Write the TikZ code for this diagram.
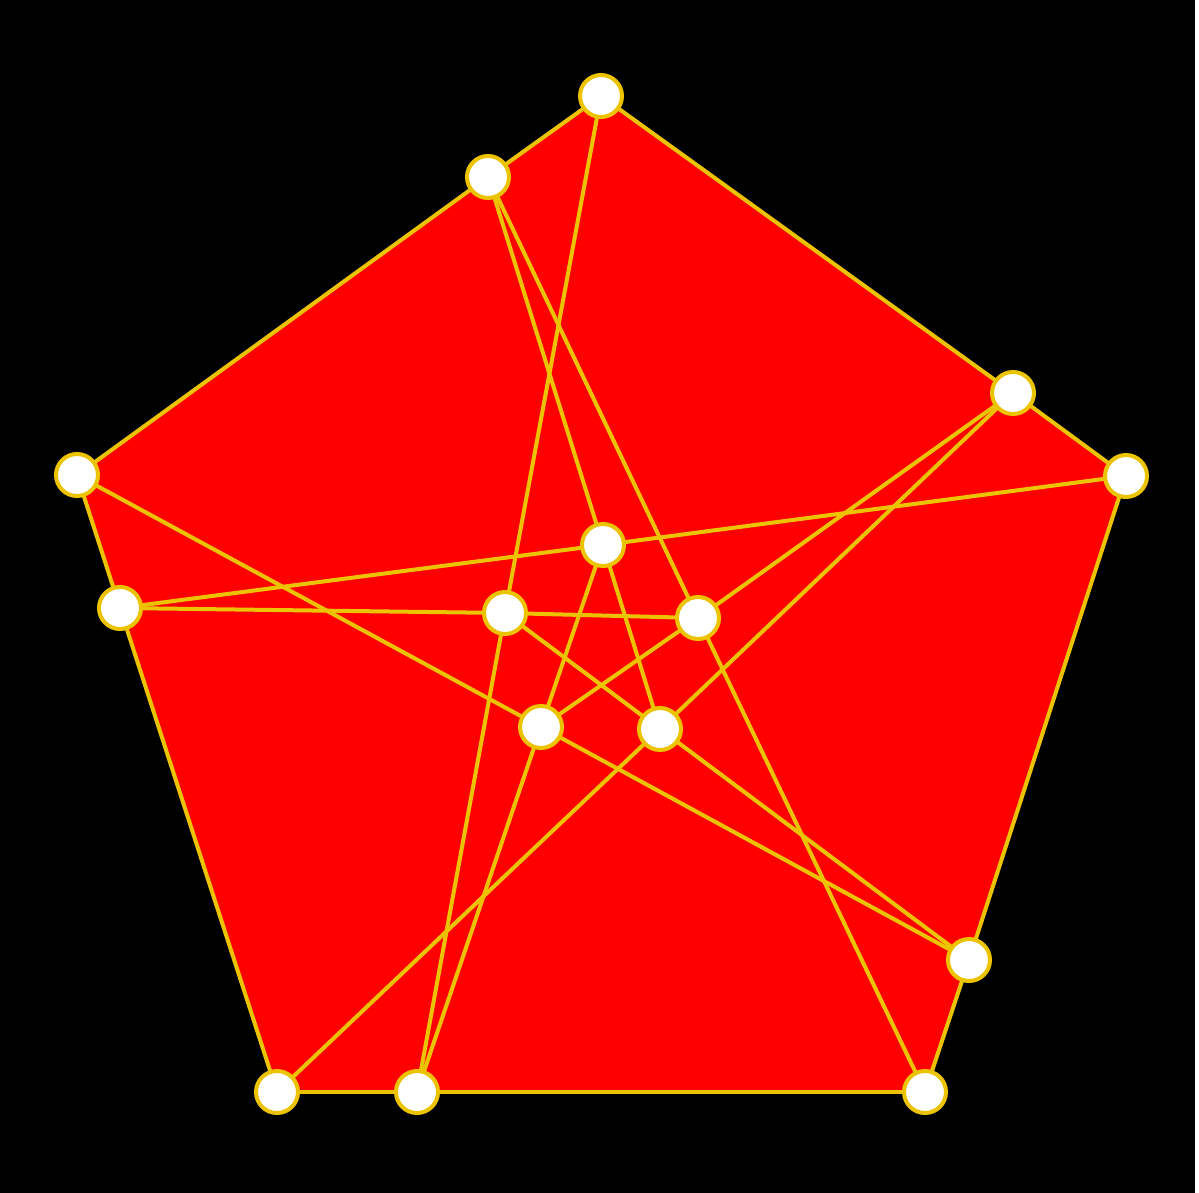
\documentclass[tikz,border=0pt]{standalone}
\begin{document}
\begin{tikzpicture}[x=0.5pt,y=-0.5pt,
  edge/.style={draw=gold,line width=2pt},
  vert/.style={circle,fill=white,draw=gold,line width=2pt,minimum size=21pt,inner sep=0pt}]
\definecolor{gold}{RGB}{235,195,0}
\definecolor{redfill}{RGB}{255,0,0}
\useasboundingbox (0,0) rectangle (1199,1193);
\fill[black] (0,0) rectangle (1195,1193);
% coordinates
\coordinate (A) at (601,96);
\coordinate (B) at (488,177);
\coordinate (C) at (1013,393);
\coordinate (D) at (1126,476);
\coordinate (E) at (77,475);
\coordinate (F) at (120,608);
\coordinate (G) at (603,545);
\coordinate (H) at (505,613);
\coordinate (I) at (698,618);
\coordinate (J) at (541,727);
\coordinate (K) at (660,729);
\coordinate (L) at (969,960);
\coordinate (M) at (277,1092);
\coordinate (N) at (417,1092);
\coordinate (O) at (925,1092);
% pentagon fill
\fill[redfill] (A) -- (D) -- (O) -- (M) -- (E) -- cycle;
% lines of the configuration
\draw[edge] (A) -- (B) -- (E);
\draw[edge] (E) -- (F) -- (M);
\draw[edge] (M) -- (N) -- (O);
\draw[edge] (O) -- (L) -- (D);
\draw[edge] (D) -- (C) -- (A);
\draw[edge] (A) -- (H) -- (N);
\draw[edge] (B) -- (G) -- (K);
\draw[edge] (B) -- (I) -- (O);
\draw[edge] (C) -- (I) -- (J);
\draw[edge] (C) -- (K) -- (M);
\draw[edge] (D) -- (G) -- (F);
\draw[edge] (E) -- (J) -- (L);
\draw[edge] (F) -- (H) -- (I);
\draw[edge] (H) -- (K) -- (L);
\draw[edge] (G) -- (J) -- (N);
% vertices
\foreach \p in {A,B,C,D,E,F,G,H,I,J,K,L,M,N,O}
  \node[vert] (v\p) at (\p) {};
\end{tikzpicture}
\end{document}
